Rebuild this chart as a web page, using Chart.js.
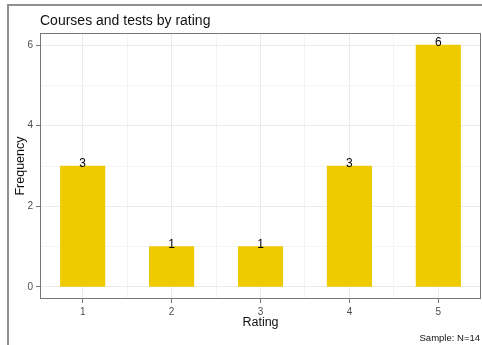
<!DOCTYPE html>
<html>
<head>
<meta charset="utf-8">
<script src="https://cdn.jsdelivr.net/npm/chart.js@4.4.0/dist/chart.umd.min.js"></script>
<style>
  html, body { margin: 0; padding: 0; background: #fff; }
  canvas { display: block; }
</style>
</head>
<body>
<canvas id="chart" width="482" height="345"></canvas>
<script>
// data
const ratings = [1, 2, 3, 4, 5];
const frequencies = [3, 1, 1, 3, 6];
const yTickValues = [0, 1, 2, 3, 4, 5, 6];      // odd ones are minor grid lines
const xTickValues = [1, 1.5, 2, 2.5, 3, 3.5, 4, 4.5, 5];
const titleText = "Courses and tests by rating";
const captionText = "Sample: N=14";

const FONT = "'Liberation Sans', Arial, Helvetica, sans-serif";
const BAR = "#EECA00";

const frame = {
    id: "frame",
    beforeDraw(chart) {
        const ctx = chart.ctx;
        ctx.save();
        ctx.fillStyle = "#fff";
        ctx.fillRect(0, 0, chart.width, chart.height);
        ctx.strokeStyle = "#8f8f8f";
        ctx.lineWidth = 2;
        ctx.beginPath();
        ctx.moveTo(8, chart.height);
        ctx.lineTo(8, 5);
        ctx.lineTo(chart.width, 5);
        ctx.stroke();
        ctx.restore();
    },
    afterDraw(chart) {
        const ctx = chart.ctx;
        const a = chart.chartArea;
        ctx.save();
        ctx.strokeStyle = "#777";
        ctx.lineWidth = 1;
        ctx.strokeRect(a.left + 0.5, a.top + 0.5, a.right - a.left - 1, a.bottom - a.top - 1);
        ctx.fillStyle = "#111";
        ctx.font = "14px " + FONT;
        ctx.textAlign = "left";
        ctx.textBaseline = "alphabetic";
        ctx.fillText(titleText, 40, 25);
        ctx.font = "9.5px " + FONT;
        ctx.textAlign = "right";
        ctx.fillText(captionText, 480, 341);
        ctx.restore();
    },
};

const valueLabels = {
    id: "valueLabels",
    afterDatasetsDraw(chart) {
        const ctx = chart.ctx;
        const meta = chart.getDatasetMeta(0);
        ctx.save();
        ctx.fillStyle = "#000";
        ctx.font = "12px " + FONT;
        ctx.textAlign = "center";
        ctx.textBaseline = "alphabetic";
        meta.data.forEach((bar, i) => {
            ctx.fillText(String(frequencies[i]), bar.x, bar.y + 1);
        });
        ctx.restore();
    },
};

new Chart(document.getElementById("chart"), {
    type: "bar",
    data: {
        datasets: [{
            data: ratings.map((r, i) => ({ x: r, y: frequencies[i] })),
            backgroundColor: BAR,
            borderWidth: 0,
            barPercentage: 1,
            categoryPercentage: 1,
        }],
    },
    options: {
        responsive: false,
        animation: false,
        layout: { padding: { left: 0, top: 33, right: 1, bottom: 15 } },
        plugins: { legend: { display: false }, tooltip: { enabled: false } },
        scales: {
            x: {
                type: "linear",
                min: 0.52,
                max: 5.48,
                offset: false,
                afterBuildTicks: (s) => { s.ticks = xTickValues.map((v) => ({ value: v })); },
                afterFit: (s) => { s.height = 31; },
                ticks: {
                    autoSkip: false,
                    maxRotation: 0,
                    padding: 3,
                    color: "#4d4d4d",
                    font: { family: FONT, size: 10 },
                    callback: (v) => (Number.isInteger(v) ? String(v) : ""),
                },
                grid: {
                    offset: false,
                    tickLength: 4,
                    color: (c) => (Number.isInteger(c.tick.value) ? "#ebebeb" : "#f4f4f4"),
                    tickColor: (c) => (Number.isInteger(c.tick.value) ? "#777" : "rgba(0,0,0,0)"),
                    lineWidth: 1,
                },
                border: { display: false },
                title: {
                    display: true,
                    text: "Rating",
                    color: "#111",
                    font: { family: FONT, size: 12.5 },
                    padding: { top: 0, bottom: 0 },
                },
            },
            y: {
                min: -0.3,
                max: 6.3,
                afterBuildTicks: (s) => { s.ticks = yTickValues.map((v) => ({ value: v })); },
                afterFit: (s) => { s.width = 40; },
                ticks: {
                    padding: 3,
                    color: "#4d4d4d",
                    font: { family: FONT, size: 10 },
                    callback: (v) => (v % 2 === 0 ? String(v) : ""),
                },
                grid: {
                    tickLength: 4,
                    color: (c) => (c.tick.value % 2 === 0 ? "#ebebeb" : "#f4f4f4"),
                    tickColor: (c) => (c.tick.value % 2 === 0 ? "#777" : "rgba(0,0,0,0)"),
                    lineWidth: 1,
                },
                border: { display: false },
                title: {
                    display: true,
                    text: "Frequency",
                    color: "#111",
                    font: { family: FONT, size: 12.5 },
                    padding: { top: 13, bottom: 0 },
                },
            },
        },
    },
    plugins: [frame, valueLabels],
});
</script>
</body>
</html>
